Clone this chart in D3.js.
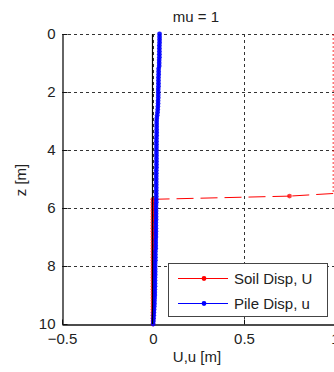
<!DOCTYPE html>
<html>
<head>
<meta charset="utf-8">
<script src="https://cdn.jsdelivr.net/npm/d3@7"></script>
<style>
  html, body { margin: 0; padding: 0; background: #fff; }
  svg { display: block; }
  text { font-family: "Liberation Sans", Arial, Helvetica, sans-serif; fill: #222; }
</style>
</head>
<body>
<svg id="chart" width="334" height="372"></svg>
<script>
// Depth along the pile [m] and lateral displacements [m]
const pileZ = [
  0.0,0.1,0.2,0.3,0.4,0.5,0.6,0.7,0.8,0.9,1.0,1.1,1.2,1.3,1.4,1.5,1.6,1.7,1.8,1.9,
  2.0,2.1,2.2,2.3,2.4,2.5,2.6,2.7,2.8,2.9,3.0,3.1,3.2,3.3,3.4,3.5,3.6,3.7,3.8,3.9,
  4.0,4.1,4.2,4.3,4.4,4.5,4.6,4.7,4.8,4.9,5.0,5.1,5.2,5.3,5.4,5.5,5.6,5.7,5.8,5.9,
  6.0,6.1,6.2,6.3,6.4,6.5,6.6,6.7,6.8,6.9,7.0,7.1,7.2,7.3,7.4,7.5,7.6,7.7,7.8,7.9,
  8.0,8.1,8.2,8.3,8.4,8.5,8.6,8.7,8.8,8.9,9.0,9.1,9.2,9.3,9.4,9.5,9.6,9.7,9.8,9.9,
  10.0
];
const pileU = [
  0.036,0.036,0.036,0.036,0.035,0.035,0.035,0.035,0.035,0.034,0.034,0.034,0.031,0.031,0.031,0.030,0.030,0.030,0.030,0.029,
  0.029,0.029,0.029,0.028,0.028,0.027,0.026,0.025,0.023,0.021,0.020,0.020,0.020,0.020,0.020,0.020,0.019,0.019,0.019,0.019,
  0.019,0.019,0.019,0.019,0.019,0.019,0.019,0.018,0.018,0.018,0.018,0.018,0.018,0.018,0.018,0.018,0.018,0.018,0.018,0.017,
  0.017,0.017,0.017,0.017,0.017,0.016,0.016,0.016,0.016,0.016,0.016,0.015,0.015,0.015,0.015,0.013,0.013,0.013,0.013,0.012,
  0.012,0.012,0.012,0.012,0.011,0.011,0.011,0.011,0.010,0.010,0.010,0.009,0.008,0.008,0.007,0.006,0.005,0.004,0.003,0.002,
  0.001
];
const soilZ = [
  0.0,5.5,5.59,
  5.7,5.8,5.9,6.0,6.1,6.2,6.3,6.4,6.5,6.6,6.7,6.8,6.9,7.0,7.1,7.2,7.3,7.4,7.5,7.6,7.7,7.8,7.9,
  8.0,8.1,8.2,8.3,8.4,8.5,8.6,8.7,8.8,8.9,9.0,9.1,9.2,9.3,9.4,9.5,9.6,9.7,9.8,9.9,10.0
];
const soilU = [
  0.99,0.99,0.75,
  0,0,0,0,0,0,0,0,0,0,0,0,0,0,0,0,0,0,0,0,0,0,0,
  0,0,0,0,0,0,0,0,0,0,0,0,0,0,0,0,0,0,0,0,0
];
const xTicks = [-0.5, 0, 0.5, 1];
const yTicks = [0, 2, 4, 6, 8, 10];
const seriesNames = ["Soil Disp, U", "Pile Disp, u"];
const seriesColors = ["#ff0000", "#0000ff"];
const titleText = "mu = 1";
const xLabel = "U,u [m]";
const yLabel = "z [m]";

const svg = d3.select("#chart");
const plotL = 62, plotR = 335, plotT = 34, plotB = 324;

const x = d3.scaleLinear().domain([-0.5, 1]).range([plotL, plotR]);
const y = d3.scaleLinear().domain([0, 10]).range([plotT, plotB]);

// grid
const grid = svg.append("g").attr("stroke", "#333").attr("stroke-width", 1)
  .attr("stroke-dasharray", "3,3");
yTicks.filter(t => t !== 10).forEach(t => {
  grid.append("line").attr("x1", plotL).attr("x2", plotR)
    .attr("y1", Math.round(y(t)) + 0.5).attr("y2", Math.round(y(t)) + 0.5);
});
xTicks.filter(t => t !== -0.5 && t !== 1).forEach(t => {
  grid.append("line").attr("x1", Math.round(x(t)) + 0.5).attr("x2", Math.round(x(t)) + 0.5)
    .attr("y1", plotT).attr("y2", plotB);
});

// axes (left and bottom only)
const yAxis = d3.axisLeft(y).tickValues(yTicks).tickSizeInner(-5).tickSizeOuter(0).tickPadding(7)
  .tickFormat(d3.format("d"));
const xAxis = d3.axisBottom(x).tickValues(xTicks).tickSizeInner(-5).tickSizeOuter(0).tickPadding(9)
  .tickFormat(d => d === 0 ? "0" : d === 1 ? "1" : d3.format(".1f")(d));

const gy = svg.append("g").attr("transform", `translate(${plotL + 0.5},0)`).call(yAxis);
const gx = svg.append("g").attr("transform", `translate(0,${plotB + 0.5})`).call(xAxis);
[gx, gy].forEach(g => {
  g.select(".domain").attr("stroke", "#111").attr("stroke-width", 1.3);
  g.selectAll(".tick line").attr("stroke", "#111");
  g.selectAll(".tick text").attr("font-size", 15).attr("fill", "#222")
    .style("font-family", "'Liberation Sans', Arial, sans-serif");
});

// soil displacement: segments between successive points
const soilPts = soilZ.map((z, i) => ({ z, u: soilU[i] }));
const soil = svg.append("g");
for (let i = 0; i < soilPts.length - 1; i++) {
  const a = soilPts[i], b = soilPts[i + 1];
  const seg = soil.append("line")
    .attr("x1", x(a.u)).attr("y1", y(a.z)).attr("x2", x(b.u)).attr("y2", y(b.z))
    .attr("stroke", seriesColors[0]).attr("stroke-width", 1);
  if (a.u !== b.u) seg.attr("stroke-dasharray", "17,7");
  else if (a.u > 0) seg.attr("stroke-dasharray", "2,2").attr("stroke-opacity", 0.8);
}
soil.selectAll("circle").data(soilPts.filter(p => p.u < 0.9)).join("circle")
  .attr("cx", p => x(p.u)).attr("cy", p => y(p.z)).attr("r", 2.4)
  .attr("fill", seriesColors[0]).attr("fill-opacity", 0.75);

// pile displacement
const pilePts = pileZ.map((z, i) => ({ z, u: pileU[i] }));
const pile = svg.append("g");
pile.append("path").datum(pilePts)
  .attr("d", d3.line().x(p => x(p.u)).y(p => y(p.z)))
  .attr("fill", "none").attr("stroke", seriesColors[1]).attr("stroke-width", 1.5);
pile.selectAll("circle").data(pilePts).join("circle")
  .attr("cx", p => x(p.u)).attr("cy", p => y(p.z)).attr("r", 2.4)
  .attr("fill", seriesColors[1]).attr("fill-opacity", 0.9);

// undeformed pile axis at u = 0
svg.append("line")
  .attr("x1", x(0) - 0.5).attr("x2", x(0) - 0.5).attr("y1", y(0)).attr("y2", y(10))
  .attr("stroke", "#000").attr("stroke-width", 1.2);

// title and axis labels
svg.append("text").attr("x", 196).attr("y", 22).attr("text-anchor", "middle")
  .attr("font-size", 15).text(titleText);
svg.append("text").attr("x", 197).attr("y", 362).attr("text-anchor", "middle")
  .attr("font-size", 15).text(xLabel);
svg.append("text").attr("transform", "translate(26,180) rotate(-90)")
  .attr("text-anchor", "middle").attr("font-size", 15).text(yLabel);

// legend
const lg = svg.append("g");
lg.append("rect").attr("x", 168.5).attr("y", 263.5).attr("width", 159).attr("height", 53)
  .attr("fill", "#fff").attr("stroke", "#444").attr("stroke-width", 1);
seriesNames.forEach((name, i) => {
  const ly = 278.5 + i * 25;
  lg.append("line").attr("x1", 178).attr("x2", 228).attr("y1", ly).attr("y2", ly)
    .attr("stroke", seriesColors[i]).attr("stroke-width", 1);
  lg.append("circle").attr("cx", 204).attr("cy", ly).attr("r", 2.4).attr("fill", seriesColors[i]);
  lg.append("text").attr("x", 234).attr("y", ly + 5.5).attr("font-size", 15).text(name);
});
</script>
</body>
</html>
